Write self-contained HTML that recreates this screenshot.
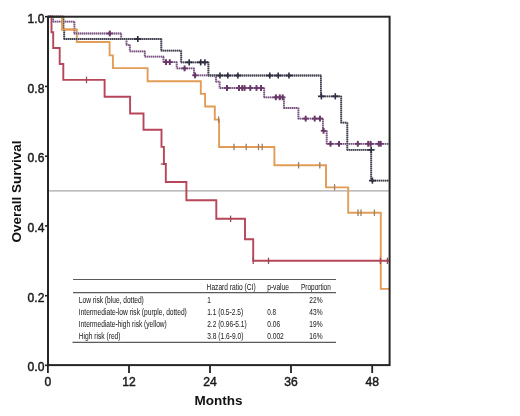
<!DOCTYPE html>
<html><head><meta charset="utf-8"><title>Overall Survival</title>
<style>html,body{margin:0;padding:0;background:#fff;}body{width:520px;height:416px;overflow:hidden;font-family:"Liberation Sans",sans-serif;}svg{display:block;will-change:transform;}</style>
</head><body>
<svg width="520" height="416" viewBox="0 0 520 416">
<rect width="520" height="416" fill="#fff"/>
<g>
<line x1="48.0" y1="190.8" x2="389.6" y2="190.8" stroke="#a8a8a8" stroke-width="1.3"/>
<g fill="none" stroke-linejoin="miter" stroke-linecap="butt">
<path d="M48.0 16.7 L62.2 16.7 L62.2 29.5 L76.8 29.5 L76.8 42.0 L109.6 42.0 L109.6 55.4 L112.9 55.4 L112.9 68.1 L147.6 68.1 L147.6 81.2 L200.8 81.2 L200.8 93.9 L205.1 93.9 L205.1 106.5 L214.8 106.5 L214.8 119.6 L219.1 119.6 L219.1 147.0 L274.4 147.0 L274.4 165.3 L326.0 165.3 L326.0 187.4 L348.2 187.4 L348.2 212.7 L380.8 212.7 L380.8 288.9 L389.6 288.9" stroke="#e29c56" stroke-width="1.9"/>
<line x1="218.6" y1="116.4" x2="218.6" y2="122.8" stroke="#9a8060" stroke-width="1.3"/><line x1="234.0" y1="143.8" x2="234.0" y2="150.2" stroke="#9a8060" stroke-width="1.3"/><line x1="246.2" y1="143.8" x2="246.2" y2="150.2" stroke="#9a8060" stroke-width="1.3"/><line x1="258.5" y1="143.8" x2="258.5" y2="150.2" stroke="#9a8060" stroke-width="1.3"/><line x1="262.2" y1="143.8" x2="262.2" y2="150.2" stroke="#9a8060" stroke-width="1.3"/><line x1="298.6" y1="162.1" x2="298.6" y2="168.5" stroke="#9a8060" stroke-width="1.3"/><line x1="319.8" y1="162.1" x2="319.8" y2="168.5" stroke="#9a8060" stroke-width="1.3"/><line x1="334.6" y1="184.2" x2="334.6" y2="190.6" stroke="#9a8060" stroke-width="1.3"/><line x1="358.0" y1="209.5" x2="358.0" y2="215.9" stroke="#9a8060" stroke-width="1.3"/><line x1="361.0" y1="209.5" x2="361.0" y2="215.9" stroke="#9a8060" stroke-width="1.3"/><line x1="374.4" y1="209.5" x2="374.4" y2="215.9" stroke="#9a8060" stroke-width="1.3"/>
<path d="M48.0 16.7 L51.5 16.7 L51.5 32.3 L53.2 32.3 L53.2 48.0 L59.7 48.0 L59.7 64.0 L63.3 64.0 L63.3 79.8 L104.6 79.9 L104.6 96.7 L130.1 96.7 L130.1 113.5 L143.5 113.5 L143.5 129.8 L161.5 129.8 L161.5 146.9 L163.9 146.9 L163.9 164.0 L165.8 164.0 L165.8 182.0 L186.4 182.0 L186.4 200.3 L216.3 200.3 L216.3 218.8 L245.0 218.8 L245.0 239.3 L253.2 239.3 L253.2 260.8 L389.6 260.8" stroke="#b64658" stroke-width="1.9"/>
<line x1="86.5" y1="76.7" x2="86.5" y2="83.1" stroke="#9a4a55" stroke-width="1.3"/><line x1="230.6" y1="215.6" x2="230.6" y2="222.0" stroke="#9a4a55" stroke-width="1.3"/><line x1="253.2" y1="257.6" x2="253.2" y2="264.0" stroke="#9a4a55" stroke-width="1.3"/><line x1="268.5" y1="257.6" x2="268.5" y2="264.0" stroke="#9a4a55" stroke-width="1.3"/><line x1="380.4" y1="257.6" x2="380.4" y2="264.0" stroke="#9a4a55" stroke-width="1.3"/><line x1="387.4" y1="257.6" x2="387.4" y2="264.0" stroke="#9a4a55" stroke-width="1.3"/>
<line x1="160.8" y1="164" x2="166.3" y2="164" stroke="#9a4a55" stroke-width="1.3"/>
<path d="M48.0 16.7 L53.1 16.7 L53.1 21.7 L74.4 21.7 L74.4 33.5 L121.2 33.5 L121.2 39.1 L126.5 39.1 L126.5 44.8 L129.8 44.8 L129.8 51.3 L144.8 51.3 L144.8 56.6 L163.5 56.6 L163.5 62.1 L176.7 62.1 L176.7 68.4 L194.0 68.4 L194.0 75.3 L216.0 75.3 L216.0 81.6 L219.6 81.6 L219.6 88.0 L264.2 88.0 L264.2 97.3 L283.9 97.3 L283.9 108.0 L298.4 108.0 L298.4 118.6 L322.9 118.6 L322.9 130.8 L326.7 130.8 L326.7 143.8 L389.6 143.8" stroke="#b6a0ba" stroke-width="1.8"/><line x1="48" y1="16.7" x2="53" y2="16.7" stroke="#7a5682" stroke-width="1.8" stroke-dasharray="1 1"/><line x1="53.1" y1="17" x2="53.1" y2="22" stroke="#7a5682" stroke-width="1.8" stroke-dasharray="1 1"/><line x1="53" y1="21.7" x2="74" y2="21.7" stroke="#7a5682" stroke-width="1.8" stroke-dasharray="1 1"/><line x1="74.4" y1="22" x2="74.4" y2="34" stroke="#7a5682" stroke-width="1.8" stroke-dasharray="1 1"/><line x1="74" y1="33.5" x2="121" y2="33.5" stroke="#7a5682" stroke-width="1.8" stroke-dasharray="1 1"/><line x1="121.2" y1="34" x2="121.2" y2="39" stroke="#7a5682" stroke-width="1.8" stroke-dasharray="1 1"/><line x1="121" y1="39.1" x2="126" y2="39.1" stroke="#7a5682" stroke-width="1.8" stroke-dasharray="1 1"/><line x1="126.5" y1="39" x2="126.5" y2="45" stroke="#7a5682" stroke-width="1.8" stroke-dasharray="1 1"/><line x1="126" y1="44.8" x2="130" y2="44.8" stroke="#7a5682" stroke-width="1.8" stroke-dasharray="1 1"/><line x1="129.8" y1="45" x2="129.8" y2="51" stroke="#7a5682" stroke-width="1.8" stroke-dasharray="1 1"/><line x1="130" y1="51.3" x2="145" y2="51.3" stroke="#7a5682" stroke-width="1.8" stroke-dasharray="1 1"/><line x1="144.8" y1="51" x2="144.8" y2="57" stroke="#7a5682" stroke-width="1.8" stroke-dasharray="1 1"/><line x1="145" y1="56.6" x2="164" y2="56.6" stroke="#7a5682" stroke-width="1.8" stroke-dasharray="1 1"/><line x1="163.5" y1="57" x2="163.5" y2="62" stroke="#7a5682" stroke-width="1.8" stroke-dasharray="1 1"/><line x1="164" y1="62.1" x2="177" y2="62.1" stroke="#7a5682" stroke-width="1.8" stroke-dasharray="1 1"/><line x1="176.7" y1="62" x2="176.7" y2="68" stroke="#7a5682" stroke-width="1.8" stroke-dasharray="1 1"/><line x1="177" y1="68.4" x2="194" y2="68.4" stroke="#7a5682" stroke-width="1.8" stroke-dasharray="1 1"/><line x1="194.0" y1="68" x2="194.0" y2="75" stroke="#7a5682" stroke-width="1.8" stroke-dasharray="1 1"/><line x1="194" y1="75.3" x2="216" y2="75.3" stroke="#7a5682" stroke-width="1.8" stroke-dasharray="1 1"/><line x1="216.0" y1="75" x2="216.0" y2="82" stroke="#7a5682" stroke-width="1.8" stroke-dasharray="1 1"/><line x1="216" y1="81.6" x2="220" y2="81.6" stroke="#7a5682" stroke-width="1.8" stroke-dasharray="1 1"/><line x1="219.6" y1="82" x2="219.6" y2="88" stroke="#7a5682" stroke-width="1.8" stroke-dasharray="1 1"/><line x1="220" y1="88.0" x2="264" y2="88.0" stroke="#7a5682" stroke-width="1.8" stroke-dasharray="1 1"/><line x1="264.2" y1="88" x2="264.2" y2="97" stroke="#7a5682" stroke-width="1.8" stroke-dasharray="1 1"/><line x1="264" y1="97.3" x2="284" y2="97.3" stroke="#7a5682" stroke-width="1.8" stroke-dasharray="1 1"/><line x1="283.9" y1="97" x2="283.9" y2="108" stroke="#7a5682" stroke-width="1.8" stroke-dasharray="1 1"/><line x1="284" y1="108.0" x2="298" y2="108.0" stroke="#7a5682" stroke-width="1.8" stroke-dasharray="1 1"/><line x1="298.4" y1="108" x2="298.4" y2="119" stroke="#7a5682" stroke-width="1.8" stroke-dasharray="1 1"/><line x1="298" y1="118.6" x2="323" y2="118.6" stroke="#7a5682" stroke-width="1.8" stroke-dasharray="1 1"/><line x1="322.9" y1="119" x2="322.9" y2="131" stroke="#7a5682" stroke-width="1.8" stroke-dasharray="1 1"/><line x1="323" y1="130.8" x2="327" y2="130.8" stroke="#7a5682" stroke-width="1.8" stroke-dasharray="1 1"/><line x1="326.7" y1="131" x2="326.7" y2="144" stroke="#7a5682" stroke-width="1.8" stroke-dasharray="1 1"/><line x1="327" y1="143.8" x2="390" y2="143.8" stroke="#7a5682" stroke-width="1.8" stroke-dasharray="1 1"/>
<line x1="109.8" y1="30.6" x2="109.8" y2="36.4" stroke="#6a3868" stroke-width="2.0"/><line x1="107.0" y1="33.5" x2="112.6" y2="33.5" stroke="#6a3868" stroke-width="1.7"/><line x1="166.0" y1="59.2" x2="166.0" y2="65.0" stroke="#6a3868" stroke-width="2.0"/><line x1="163.2" y1="62.1" x2="168.8" y2="62.1" stroke="#6a3868" stroke-width="1.7"/><line x1="169.8" y1="59.2" x2="169.8" y2="65.0" stroke="#6a3868" stroke-width="2.0"/><line x1="167.0" y1="62.1" x2="172.6" y2="62.1" stroke="#6a3868" stroke-width="1.7"/><line x1="184.6" y1="65.5" x2="184.6" y2="71.3" stroke="#6a3868" stroke-width="2.0"/><line x1="181.8" y1="68.4" x2="187.4" y2="68.4" stroke="#6a3868" stroke-width="1.7"/><line x1="195.0" y1="72.4" x2="195.0" y2="78.2" stroke="#6a3868" stroke-width="2.0"/><line x1="192.2" y1="75.3" x2="197.8" y2="75.3" stroke="#6a3868" stroke-width="1.7"/><line x1="227.0" y1="85.1" x2="227.0" y2="90.9" stroke="#6a3868" stroke-width="2.0"/><line x1="224.2" y1="88.0" x2="229.8" y2="88.0" stroke="#6a3868" stroke-width="1.7"/><line x1="239.0" y1="85.1" x2="239.0" y2="90.9" stroke="#6a3868" stroke-width="2.0"/><line x1="236.2" y1="88.0" x2="241.8" y2="88.0" stroke="#6a3868" stroke-width="1.7"/><line x1="242.2" y1="85.1" x2="242.2" y2="90.9" stroke="#6a3868" stroke-width="2.0"/><line x1="239.4" y1="88.0" x2="245.0" y2="88.0" stroke="#6a3868" stroke-width="1.7"/><line x1="244.6" y1="85.1" x2="244.6" y2="90.9" stroke="#6a3868" stroke-width="2.0"/><line x1="241.8" y1="88.0" x2="247.4" y2="88.0" stroke="#6a3868" stroke-width="1.7"/><line x1="250.3" y1="85.1" x2="250.3" y2="90.9" stroke="#6a3868" stroke-width="2.0"/><line x1="247.5" y1="88.0" x2="253.1" y2="88.0" stroke="#6a3868" stroke-width="1.7"/><line x1="256.5" y1="85.1" x2="256.5" y2="90.9" stroke="#6a3868" stroke-width="2.0"/><line x1="253.7" y1="88.0" x2="259.3" y2="88.0" stroke="#6a3868" stroke-width="1.7"/><line x1="261.0" y1="85.1" x2="261.0" y2="90.9" stroke="#6a3868" stroke-width="2.0"/><line x1="258.2" y1="88.0" x2="263.8" y2="88.0" stroke="#6a3868" stroke-width="1.7"/><line x1="275.9" y1="94.4" x2="275.9" y2="100.2" stroke="#6a3868" stroke-width="2.0"/><line x1="273.1" y1="97.3" x2="278.7" y2="97.3" stroke="#6a3868" stroke-width="1.7"/><line x1="279.8" y1="94.4" x2="279.8" y2="100.2" stroke="#6a3868" stroke-width="2.0"/><line x1="277.0" y1="97.3" x2="282.6" y2="97.3" stroke="#6a3868" stroke-width="1.7"/><line x1="282.7" y1="94.4" x2="282.7" y2="100.2" stroke="#6a3868" stroke-width="2.0"/><line x1="279.9" y1="97.3" x2="285.5" y2="97.3" stroke="#6a3868" stroke-width="1.7"/><line x1="305.7" y1="115.7" x2="305.7" y2="121.5" stroke="#6a3868" stroke-width="2.0"/><line x1="302.9" y1="118.6" x2="308.5" y2="118.6" stroke="#6a3868" stroke-width="1.7"/><line x1="314.7" y1="115.7" x2="314.7" y2="121.5" stroke="#6a3868" stroke-width="2.0"/><line x1="311.9" y1="118.6" x2="317.5" y2="118.6" stroke="#6a3868" stroke-width="1.7"/><line x1="320.0" y1="115.7" x2="320.0" y2="121.5" stroke="#6a3868" stroke-width="2.0"/><line x1="317.2" y1="118.6" x2="322.8" y2="118.6" stroke="#6a3868" stroke-width="1.7"/><line x1="323.6" y1="127.9" x2="323.6" y2="133.7" stroke="#6a3868" stroke-width="2.0"/><line x1="320.8" y1="130.8" x2="326.4" y2="130.8" stroke="#6a3868" stroke-width="1.7"/><line x1="330.5" y1="140.9" x2="330.5" y2="146.7" stroke="#6a3868" stroke-width="2.0"/><line x1="327.7" y1="143.8" x2="333.3" y2="143.8" stroke="#6a3868" stroke-width="1.7"/><line x1="339.0" y1="140.9" x2="339.0" y2="146.7" stroke="#6a3868" stroke-width="2.0"/><line x1="336.2" y1="143.8" x2="341.8" y2="143.8" stroke="#6a3868" stroke-width="1.7"/><line x1="357.8" y1="140.9" x2="357.8" y2="146.7" stroke="#6a3868" stroke-width="2.0"/><line x1="355.0" y1="143.8" x2="360.6" y2="143.8" stroke="#6a3868" stroke-width="1.7"/><line x1="368.2" y1="140.9" x2="368.2" y2="146.7" stroke="#6a3868" stroke-width="2.0"/><line x1="365.4" y1="143.8" x2="371.0" y2="143.8" stroke="#6a3868" stroke-width="1.7"/><line x1="370.6" y1="140.9" x2="370.6" y2="146.7" stroke="#6a3868" stroke-width="2.0"/><line x1="367.8" y1="143.8" x2="373.4" y2="143.8" stroke="#6a3868" stroke-width="1.7"/><line x1="378.8" y1="140.9" x2="378.8" y2="146.7" stroke="#6a3868" stroke-width="2.0"/><line x1="376.0" y1="143.8" x2="381.6" y2="143.8" stroke="#6a3868" stroke-width="1.7"/><line x1="380.7" y1="140.9" x2="380.7" y2="146.7" stroke="#6a3868" stroke-width="2.0"/><line x1="377.9" y1="143.8" x2="383.5" y2="143.8" stroke="#6a3868" stroke-width="1.7"/>
<path d="M48.0 16.7 L63.4 16.7 L63.4 29.5 L64.2 29.5 L64.2 39.0 L161.3 39.0 L161.3 50.7 L181.2 50.7 L181.2 62.3 L208.4 62.3 L208.4 75.5 L320.9 75.5 L320.9 96.3 L341.2 96.3 L341.2 122.7 L347.3 122.7 L347.3 149.9 L371.2 149.9 L371.2 180.6 L389.6 180.6" stroke="#8c8c98" stroke-width="1.8"/><line x1="48" y1="16.7" x2="63" y2="16.7" stroke="#44444f" stroke-width="1.8" stroke-dasharray="1 1"/><line x1="63.4" y1="17" x2="63.4" y2="30" stroke="#44444f" stroke-width="1.8" stroke-dasharray="1 1"/><line x1="63" y1="29.5" x2="64" y2="29.5" stroke="#44444f" stroke-width="1.8" stroke-dasharray="1 1"/><line x1="64.2" y1="30" x2="64.2" y2="39" stroke="#44444f" stroke-width="1.8" stroke-dasharray="1 1"/><line x1="64" y1="39.0" x2="161" y2="39.0" stroke="#44444f" stroke-width="1.8" stroke-dasharray="1 1"/><line x1="161.3" y1="39" x2="161.3" y2="51" stroke="#44444f" stroke-width="1.8" stroke-dasharray="1 1"/><line x1="161" y1="50.7" x2="181" y2="50.7" stroke="#44444f" stroke-width="1.8" stroke-dasharray="1 1"/><line x1="181.2" y1="51" x2="181.2" y2="62" stroke="#44444f" stroke-width="1.8" stroke-dasharray="1 1"/><line x1="181" y1="62.3" x2="208" y2="62.3" stroke="#44444f" stroke-width="1.8" stroke-dasharray="1 1"/><line x1="208.4" y1="62" x2="208.4" y2="76" stroke="#44444f" stroke-width="1.8" stroke-dasharray="1 1"/><line x1="208" y1="75.5" x2="321" y2="75.5" stroke="#44444f" stroke-width="1.8" stroke-dasharray="1 1"/><line x1="320.9" y1="76" x2="320.9" y2="96" stroke="#44444f" stroke-width="1.8" stroke-dasharray="1 1"/><line x1="321" y1="96.3" x2="341" y2="96.3" stroke="#44444f" stroke-width="1.8" stroke-dasharray="1 1"/><line x1="341.2" y1="96" x2="341.2" y2="123" stroke="#44444f" stroke-width="1.8" stroke-dasharray="1 1"/><line x1="341" y1="122.7" x2="347" y2="122.7" stroke="#44444f" stroke-width="1.8" stroke-dasharray="1 1"/><line x1="347.3" y1="123" x2="347.3" y2="150" stroke="#44444f" stroke-width="1.8" stroke-dasharray="1 1"/><line x1="347" y1="149.9" x2="371" y2="149.9" stroke="#44444f" stroke-width="1.8" stroke-dasharray="1 1"/><line x1="371.2" y1="150" x2="371.2" y2="181" stroke="#44444f" stroke-width="1.8" stroke-dasharray="1 1"/><line x1="371" y1="180.6" x2="390" y2="180.6" stroke="#44444f" stroke-width="1.8" stroke-dasharray="1 1"/>
<line x1="137.8" y1="35.9" x2="137.8" y2="42.1" stroke="#2e2e40" stroke-width="1.6"/><line x1="134.4" y1="39.0" x2="141.2" y2="39.0" stroke="#2e2e40" stroke-width="1.7"/><line x1="189.2" y1="59.2" x2="189.2" y2="65.4" stroke="#2e2e40" stroke-width="1.6"/><line x1="185.8" y1="62.3" x2="192.6" y2="62.3" stroke="#2e2e40" stroke-width="1.7"/><line x1="200.7" y1="59.2" x2="200.7" y2="65.4" stroke="#2e2e40" stroke-width="1.6"/><line x1="197.3" y1="62.3" x2="204.1" y2="62.3" stroke="#2e2e40" stroke-width="1.7"/><line x1="204.9" y1="59.2" x2="204.9" y2="65.4" stroke="#2e2e40" stroke-width="1.6"/><line x1="201.5" y1="62.3" x2="208.3" y2="62.3" stroke="#2e2e40" stroke-width="1.7"/><line x1="220.0" y1="72.4" x2="220.0" y2="78.6" stroke="#2e2e40" stroke-width="1.6"/><line x1="216.6" y1="75.5" x2="223.4" y2="75.5" stroke="#2e2e40" stroke-width="1.7"/><line x1="227.8" y1="72.4" x2="227.8" y2="78.6" stroke="#2e2e40" stroke-width="1.6"/><line x1="224.4" y1="75.5" x2="231.2" y2="75.5" stroke="#2e2e40" stroke-width="1.7"/><line x1="237.9" y1="72.4" x2="237.9" y2="78.6" stroke="#2e2e40" stroke-width="1.6"/><line x1="234.5" y1="75.5" x2="241.3" y2="75.5" stroke="#2e2e40" stroke-width="1.7"/><line x1="269.8" y1="72.4" x2="269.8" y2="78.6" stroke="#2e2e40" stroke-width="1.6"/><line x1="266.4" y1="75.5" x2="273.2" y2="75.5" stroke="#2e2e40" stroke-width="1.7"/><line x1="278.2" y1="72.4" x2="278.2" y2="78.6" stroke="#2e2e40" stroke-width="1.6"/><line x1="274.8" y1="75.5" x2="281.6" y2="75.5" stroke="#2e2e40" stroke-width="1.7"/><line x1="289.0" y1="72.4" x2="289.0" y2="78.6" stroke="#2e2e40" stroke-width="1.6"/><line x1="285.6" y1="75.5" x2="292.4" y2="75.5" stroke="#2e2e40" stroke-width="1.7"/><line x1="321.4" y1="93.2" x2="321.4" y2="99.4" stroke="#2e2e40" stroke-width="1.6"/><line x1="318.0" y1="96.3" x2="324.8" y2="96.3" stroke="#2e2e40" stroke-width="1.7"/><line x1="335.3" y1="93.2" x2="335.3" y2="99.4" stroke="#2e2e40" stroke-width="1.6"/><line x1="331.9" y1="96.3" x2="338.7" y2="96.3" stroke="#2e2e40" stroke-width="1.7"/><line x1="371.2" y1="146.8" x2="371.2" y2="153.0" stroke="#2e2e40" stroke-width="1.6"/><line x1="367.8" y1="149.9" x2="374.6" y2="149.9" stroke="#2e2e40" stroke-width="1.7"/><line x1="372.4" y1="177.5" x2="372.4" y2="183.7" stroke="#2e2e40" stroke-width="1.6"/><line x1="369.0" y1="180.6" x2="375.8" y2="180.6" stroke="#2e2e40" stroke-width="1.7"/>
<path d="M62.2 16.7 L62.2 29.5 L76.8 29.5" stroke="#e29c56" stroke-width="1.9"/>
</g>
<rect x="48.0" y="16.7" width="341.6" height="348.4" fill="none" stroke="#262626" stroke-width="2"/>
<line x1="45" y1="16.7" x2="48" y2="16.7" stroke="#222" stroke-width="1.6"/>
<line x1="45" y1="86.4" x2="48" y2="86.4" stroke="#222" stroke-width="1.6"/>
<line x1="45" y1="156.2" x2="48" y2="156.2" stroke="#222" stroke-width="1.6"/>
<line x1="45" y1="225.9" x2="48" y2="225.9" stroke="#222" stroke-width="1.6"/>
<line x1="45" y1="295.7" x2="48" y2="295.7" stroke="#222" stroke-width="1.6"/>
<line x1="45" y1="365.3" x2="48" y2="365.3" stroke="#222" stroke-width="1.6"/>
<line x1="47.9" y1="365" x2="47.9" y2="373" stroke="#222" stroke-width="1.8"/>
<line x1="129.0" y1="365" x2="129.0" y2="373" stroke="#222" stroke-width="1.8"/>
<line x1="210.0" y1="365" x2="210.0" y2="373" stroke="#222" stroke-width="1.8"/>
<line x1="291.0" y1="365" x2="291.0" y2="373" stroke="#222" stroke-width="1.8"/>
<line x1="372.2" y1="365" x2="372.2" y2="373" stroke="#222" stroke-width="1.8"/>
<g font-family="Liberation Sans, sans-serif" font-size="12.1" fill="#1a1a1a" stroke="#1a1a1a" stroke-width="0.45">
<text x="44.4" y="22.8" text-anchor="end">1.0</text>
<text x="44.4" y="92.5" text-anchor="end">0.8</text>
<text x="44.4" y="162.3" text-anchor="end">0.6</text>
<text x="44.4" y="232.0" text-anchor="end">0.4</text>
<text x="44.4" y="301.8" text-anchor="end">0.2</text>
<text x="44.4" y="371.4" text-anchor="end">0.0</text>
<text x="47.9" y="385.6" text-anchor="middle">0</text>
<text x="129.0" y="385.6" text-anchor="middle">12</text>
<text x="210.0" y="385.6" text-anchor="middle">24</text>
<text x="291.0" y="385.6" text-anchor="middle">36</text>
<text x="372.2" y="385.6" text-anchor="middle">48</text>
</g>
<text x="218.5" y="405.2" text-anchor="middle" font-family="Liberation Sans, sans-serif" font-weight="bold" font-size="13.5" fill="#111">Months</text>
<text transform="translate(21.3,191.5) rotate(-90)" text-anchor="middle" font-family="Liberation Sans, sans-serif" font-weight="bold" font-size="13.5" fill="#111">Overall Survival</text>
<g stroke="#5a5a5a" stroke-width="1.2">
<line x1="73" y1="279.5" x2="336" y2="279.5"/>
<line x1="73" y1="292.6" x2="336" y2="292.6"/>
<line x1="72.5" y1="342.4" x2="336" y2="342.4"/>
</g>
<g font-family="Liberation Sans, sans-serif" font-size="9.5" fill="#262626" stroke="#262626" stroke-width="0.05">
<text x="206.6" y="290.0" textLength="49.0" lengthAdjust="spacingAndGlyphs">Hazard ratio (CI)</text>
<text x="267.2" y="290.0" textLength="21.8" lengthAdjust="spacingAndGlyphs">p-value</text>
<text x="301.0" y="290.0" textLength="29.8" lengthAdjust="spacingAndGlyphs">Proportion</text>
<text x="78.8" y="303.2" textLength="65.0" lengthAdjust="spacingAndGlyphs">Low risk (blue, dotted)</text>
<text x="207.2" y="303.2" textLength="3.6" lengthAdjust="spacingAndGlyphs">1</text>
<text x="309.3" y="303.2" textLength="13.2" lengthAdjust="spacingAndGlyphs">22&#37;</text>
<text x="78.8" y="315.0" textLength="108.0" lengthAdjust="spacingAndGlyphs">Intermediate-low risk (purple, dotted)</text>
<text x="207.2" y="315.0" textLength="35.9" lengthAdjust="spacingAndGlyphs">1.1 (0.5-2.5)</text>
<text x="267.2" y="315.0" textLength="8.9" lengthAdjust="spacingAndGlyphs">0.8</text>
<text x="309.3" y="315.0" textLength="13.2" lengthAdjust="spacingAndGlyphs">43&#37;</text>
<text x="78.8" y="326.9" textLength="88.0" lengthAdjust="spacingAndGlyphs">Intermediate-high risk (yellow)</text>
<text x="207.2" y="326.9" textLength="39.5" lengthAdjust="spacingAndGlyphs">2.2 (0.96-5.1)</text>
<text x="267.2" y="326.9" textLength="12.9" lengthAdjust="spacingAndGlyphs">0.06</text>
<text x="309.3" y="326.9" textLength="13.2" lengthAdjust="spacingAndGlyphs">19&#37;</text>
<text x="78.8" y="338.8" textLength="41.7" lengthAdjust="spacingAndGlyphs">High risk (red)</text>
<text x="207.2" y="338.8" textLength="36.2" lengthAdjust="spacingAndGlyphs">3.8 (1.6-9.0)</text>
<text x="267.2" y="338.8" textLength="16.6" lengthAdjust="spacingAndGlyphs">0.002</text>
<text x="309.3" y="338.8" textLength="13.2" lengthAdjust="spacingAndGlyphs">16&#37;</text>
</g>
</g>
</svg>
</body></html>
